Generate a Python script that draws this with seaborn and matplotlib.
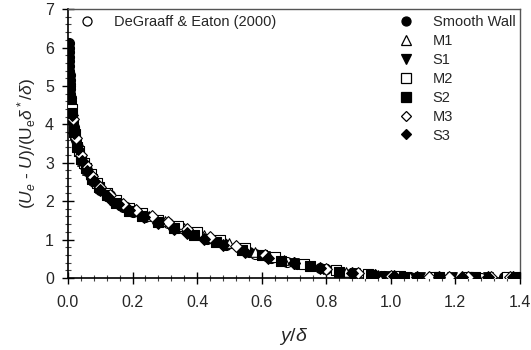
import numpy as np
import pandas as pd
import seaborn as sns
import matplotlib
matplotlib.use("Agg")
import matplotlib.pyplot as plt
from matplotlib.lines import Line2D
from matplotlib.ticker import MultipleLocator

sns.set_style("white")
plt.rcParams['font.family'] = ['Liberation Sans', 'DejaVu Sans']
plt.rcParams['mathtext.fontset'] = 'custom'
plt.rcParams['mathtext.rm'] = 'Liberation Sans'
plt.rcParams['mathtext.it'] = 'Liberation Sans:italic'
plt.rcParams['mathtext.sf'] = 'Liberation Sans'

# ---- data ----
degraaff_x = [0.003, 0.005, 0.008, 0.012, 0.018, 0.027, 0.04, 0.06, 0.09, 0.13, 0.18, 0.24, 0.31, 0.39, 0.48, 0.58, 0.68, 0.78, 0.88, 0.98, 1.08, 1.18, 1.28]
degraaff_y = [5.3, 5.0, 4.6, 4.2, 3.8, 3.4, 3.1, 2.8, 2.45, 2.15, 1.85, 1.62, 1.42, 1.18, 0.92, 0.62, 0.42, 0.26, 0.13, 0.05, 0.02, 0.01, 0.01]

smooth_x = [0.002, 0.002, 0.003, 0.003, 0.003, 0.004, 0.004, 0.005, 0.005, 0.006, 0.006, 0.007, 0.008, 0.009, 0.010, 0.012, 0.014, 0.016, 0.018, 0.02, 0.025, 0.03, 0.035, 0.04, 0.05, 0.06, 0.07, 0.08, 0.1, 0.12, 0.14, 0.17, 0.2, 0.24, 0.28, 0.33, 0.38, 0.43, 0.49, 0.56, 0.63, 0.71, 0.8, 0.88, 0.97, 1.06, 1.15, 1.25, 1.35]
smooth_y = [6.12, 6.0, 5.88, 5.76, 5.64, 5.52, 5.4, 5.28, 5.16, 5.04, 4.92, 4.8, 4.68, 4.56, 4.45, 4.3, 4.18, 4.05, 3.92, 3.8, 3.6, 3.42, 3.28, 3.15, 2.95, 2.78, 2.63, 2.5, 2.3, 2.13, 2.0, 1.85, 1.72, 1.58, 1.46, 1.32, 1.17, 1.02, 0.86, 0.68, 0.52, 0.37, 0.22, 0.13, 0.06, 0.03, 0.02, 0.02, 0.02]

m1_x = [0.01, 0.02, 0.03, 0.045, 0.06, 0.08, 0.1, 0.13, 0.16, 0.2, 0.25, 0.3, 0.36, 0.42, 0.5, 0.58, 0.67, 0.76, 0.86, 0.96, 1.06, 1.16, 1.27, 1.38]
m1_y = [4.5, 3.85, 3.45, 3.05, 2.82, 2.55, 2.35, 2.12, 1.95, 1.78, 1.62, 1.48, 1.3, 1.12, 0.9, 0.68, 0.47, 0.3, 0.16, 0.07, 0.03, 0.02, 0.02, 0.02]

s1_x = [0.008, 0.015, 0.025, 0.035, 0.05, 0.065, 0.085, 0.11, 0.14, 0.18, 0.22, 0.27, 0.32, 0.38, 0.45, 0.53, 0.61, 0.7, 0.79, 0.89, 0.99, 1.09, 1.19, 1.3, 1.4]
s1_y = [4.6, 4.0, 3.5, 3.2, 2.9, 2.7, 2.45, 2.2, 2.0, 1.8, 1.64, 1.5, 1.35, 1.18, 0.98, 0.78, 0.56, 0.39, 0.23, 0.12, 0.05, 0.03, 0.02, 0.02, 0.02]

m2_x = [0.012, 0.022, 0.035, 0.05, 0.07, 0.09, 0.12, 0.15, 0.19, 0.23, 0.28, 0.34, 0.4, 0.47, 0.55, 0.64, 0.73, 0.83, 0.93, 1.03, 1.13, 1.24, 1.36]
m2_y = [4.4, 3.75, 3.3, 3.0, 2.7, 2.48, 2.22, 2.03, 1.83, 1.68, 1.52, 1.36, 1.2, 1.0, 0.78, 0.55, 0.36, 0.2, 0.1, 0.04, 0.02, 0.02, 0.02]

s2_x = [0.01, 0.018, 0.028, 0.04, 0.055, 0.075, 0.095, 0.12, 0.15, 0.19, 0.23, 0.28, 0.33, 0.39, 0.46, 0.54, 0.6, 0.66, 0.75, 0.84, 0.94, 1.04, 1.15, 1.26, 1.39]
s2_y = [4.3, 3.8, 3.4, 3.1, 2.85, 2.58, 2.38, 2.15, 1.96, 1.75, 1.6, 1.45, 1.3, 1.12, 0.93, 0.72, 0.6, 0.44, 0.3, 0.16, 0.08, 0.03, 0.02, 0.02, 0.02]

m3_x = [0.015, 0.025, 0.04, 0.055, 0.075, 0.1, 0.13, 0.17, 0.21, 0.26, 0.31, 0.37, 0.44, 0.52, 0.61, 0.7, 0.8, 0.9, 1.0, 1.12, 1.18, 1.24, 1.31, 1.37]
m3_y = [4.15, 3.65, 3.2, 2.95, 2.65, 2.38, 2.15, 1.92, 1.76, 1.6, 1.45, 1.28, 1.06, 0.84, 0.6, 0.4, 0.24, 0.12, 0.05, 0.03, 0.03, 0.03, 0.03, 0.02]

s3_x = [0.012, 0.02, 0.032, 0.045, 0.06, 0.08, 0.1, 0.125, 0.155, 0.19, 0.235, 0.28, 0.33, 0.37, 0.42, 0.48, 0.55, 0.62, 0.7, 0.78, 0.88, 0.95, 1.01, 1.08, 1.15, 1.22, 1.3, 1.38]
s3_y = [4.25, 3.78, 3.35, 3.05, 2.78, 2.52, 2.3, 2.1, 1.92, 1.76, 1.58, 1.44, 1.28, 1.17, 1.02, 0.86, 0.68, 0.53, 0.38, 0.26, 0.14, 0.08, 0.04, 0.03, 0.02, 0.02, 0.02, 0.02]

x_ticks = [0.0, 0.2, 0.4, 0.6, 0.8, 1.0, 1.2, 1.4]
x_ticklabels = ["0.0", "0.2", "0.4", "0.6", "0.8", "1.0", "1.2", "1.4"]
y_ticks = [0, 1, 2, 3, 4, 5, 6, 7]
y_ticklabels = ["0", "1", "2", "3", "4", "5", "6", "7"]

# (label, x, y, marker, filled)
series = [
    ("DeGraaff & Eaton (2000)", degraaff_x, degraaff_y, "o", False),
    ("Smooth Wall", smooth_x, smooth_y, "o", True),
    ("M1", m1_x, m1_y, "^", False),
    ("S1", s1_x, s1_y, "v", True),
    ("M2", m2_x, m2_y, "s", False),
    ("S2", s2_x, s2_y, "s", True),
    ("M3", m3_x, m3_y, "D", False),
    ("S3", s3_x, s3_y, "D", True),
]

fig = plt.figure(figsize=(5.31, 3.5), dpi=100)
ax = fig.add_axes([0.128, 0.206, 0.851, 0.768])

sizes = {"o": 52, "^": 48, "v": 48, "s": 42, "D": 36}
for label, xs, ys, mk, filled in series:
    df = pd.DataFrame({"x": xs, "y": ys})
    sns.scatterplot(data=df, x="x", y="y", marker=mk, s=sizes[mk],
                    color="black" if filled else "white",
                    edgecolor="black", linewidth=0.8, ax=ax, legend=False, zorder=3)

ax.set_xlim(0, 1.4)
ax.set_ylim(0, 7)
ax.set_xticks(x_ticks)
ax.set_xticklabels(x_ticklabels)
ax.set_yticks(y_ticks)
ax.set_yticklabels(y_ticklabels)
ax.xaxis.set_minor_locator(MultipleLocator(0.04))
ax.yaxis.set_minor_locator(MultipleLocator(0.2))
ax.tick_params(axis="both", which="major", direction="inout", length=8, width=1,
               labelsize=11.5, color="black", top=False, right=False,
               bottom=True, left=True)
ax.tick_params(axis="both", which="minor", direction="inout", length=5, width=0.8,
               color="#444444", top=False, right=False, bottom=True, left=True)
ax.tick_params(axis="x", which="major", pad=8)
ax.tick_params(axis="y", which="major", pad=6)

for side in ["left", "bottom"]:
    ax.spines[side].set_color("black")
    ax.spines[side].set_linewidth(1.2)
for side in ["top", "right"]:
    ax.spines[side].set_color("#555555")
    ax.spines[side].set_linewidth(1.0)

ax.set_xlabel(r"$\mathit{y}/\delta$", fontsize=14, labelpad=12)
ax.set_ylabel(r"$(\mathit{U_e}$ - $\mathit{U})/(\mathrm{U_e}\delta^*/\delta)$", fontsize=12.5, labelpad=5)

def handle(mk, filled):
    return Line2D([], [], linestyle="none", marker=mk, markersize=6.5 if mk != "D" else 5.5,
                  markerfacecolor="black" if filled else "white",
                  markeredgecolor="black", markeredgewidth=0.9)

h1 = [handle(s[3], s[4]) for s in series[:1]]
l1 = [s[0] for s in series[:1]]
leg1 = ax.legend(h1, l1, loc="upper left", frameon=False, fontsize=10.5,
                 borderaxespad=0.0, borderpad=0.3, handletextpad=0.85,
                 bbox_to_anchor=(0.0, 0.995))
ax.add_artist(leg1)
h2 = [handle(s[3], s[4]) for s in series[1:]]
l2 = [s[0] for s in series[1:]]
ax.legend(h2, l2, loc="upper right", frameon=False, fontsize=10.5,
          borderaxespad=0.0, borderpad=0.3, handletextpad=0.85, labelspacing=0.34,
          bbox_to_anchor=(1.0, 0.995))

fig.savefig("out.png", dpi=100)
